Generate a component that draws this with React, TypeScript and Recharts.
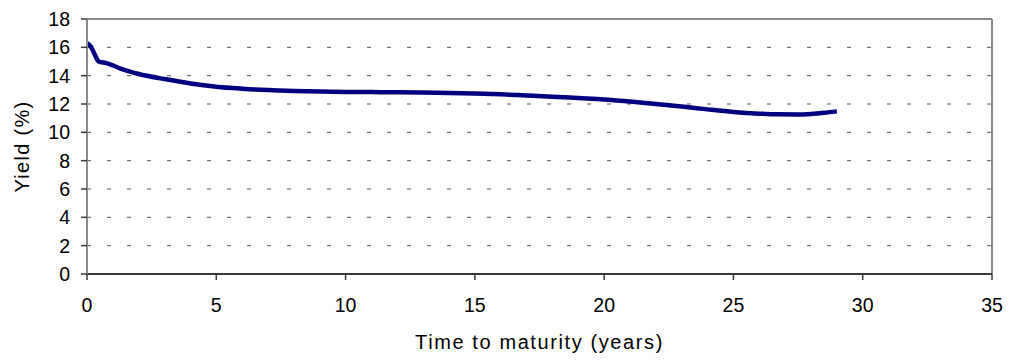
import { CartesianGrid, Line, LineChart, ReferenceLine, XAxis, YAxis } from "recharts";

// Yield curve
const years = [
  0, 0.15, 0.3, 0.45, 0.75, 1, 1.3, 2, 3, 4, 5, 6, 7, 8, 9, 10, 11, 12, 13, 14,
  15, 16, 17, 18, 19, 20, 21, 22, 23, 24, 25, 26, 26.7, 27.5, 28, 28.5, 29,
];
const yields = [
  16.3, 16.05, 15.5, 15.0, 14.88, 14.72, 14.5, 14.12, 13.76, 13.45, 13.22, 13.08,
  12.98, 12.92, 12.88, 12.85, 12.84, 12.83, 12.81, 12.78, 12.74, 12.68, 12.6,
  12.52, 12.42, 12.32, 12.17, 12.0, 11.82, 11.62, 11.44, 11.32, 11.27, 11.26,
  11.3, 11.38, 11.48,
];
const xTicks = [0, 5, 10, 15, 20, 25, 30, 35];
const yTicks = [0, 2, 4, 6, 8, 10, 12, 14, 16, 18];

const FONT = "'Liberation Sans', Arial, sans-serif";
const tickStyle = { fill: "#000", fontSize: 19.5, fontFamily: FONT };

export default function App() {
  const data = years.map((t, i) => ({ t, y: yields[i] }));

  return (
    <div style={{ position: "absolute", left: 0, top: 0, background: "#fff" }}>
      <LineChart
        width={1010}
        height={363}
        data={data}
        margin={{ top: 19, right: 18, bottom: 0, left: 0 }}
      >
        <CartesianGrid
          vertical={false}
          horizontalValues={[2, 4, 6, 8, 10, 12, 14, 16]}
          stroke="#555"
          strokeDasharray="4 16"
        />
        <XAxis
          dataKey="t"
          type="number"
          domain={[0, 35]}
          ticks={xTicks}
          height={89}
          tick={tickStyle}
          tickSize={6}
          tickMargin={18}
          stroke="#3a3a3a"
          strokeWidth={2}
          tickLine={{ stroke: "#3a3a3a", strokeWidth: 1.5 }}
          label={{
            value: "Time to maturity (years)",
            position: "insideBottom",
            offset: 14,
            style: { fontSize: 20, fontFamily: FONT, fill: "#000", letterSpacing: 1.6 },
          }}
        />
        <YAxis
          type="number"
          domain={[0, 18]}
          ticks={yTicks}
          width={87}
          tick={tickStyle}
          tickSize={6}
          tickMargin={11}
          stroke="#8a8a8a"
          strokeWidth={2}
          tickLine={{ stroke: "#3a3a3a", strokeWidth: 1.5 }}
          label={{
            value: "Yield (%)",
            angle: -90,
            position: "insideLeft",
            offset: 22,
            style: {
              textAnchor: "middle",
              fontSize: 20,
              fontFamily: FONT,
              fill: "#000",
              letterSpacing: 1.3,
            },
          }}
        />
        <ReferenceLine x={0} stroke="#444" strokeWidth={1} strokeDasharray="5 5" />
        <ReferenceLine y={18} stroke="#8a8a8a" strokeWidth={2} />
        <ReferenceLine x={35} stroke="#8a8a8a" strokeWidth={2} />
        <Line
          dataKey="y"
          type="monotone"
          stroke="#000080"
          strokeWidth={4.5}
          dot={false}
          isAnimationActive={false}
        />
      </LineChart>
    </div>
  );
}
